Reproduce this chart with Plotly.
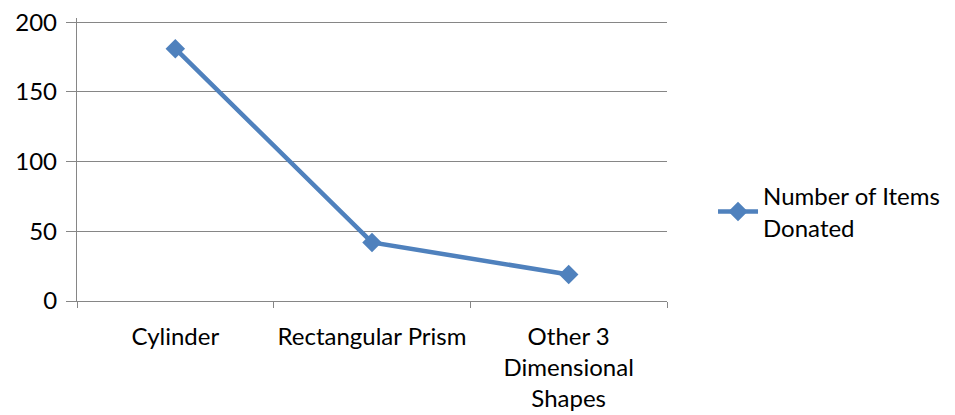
import plotly.graph_objects as go

categories = ["Cylinder", "Rectangular Prism", "Other 3<br>Dimensional<br>Shapes"]
values = [181, 42, 19]
series_name = "Number of Items<br>Donated"

fig = go.Figure()
fig.add_trace(go.Scatter(
    x=categories, y=values, name=series_name,
    mode="lines+markers",
    line=dict(color="#4F81BD", width=4.5),
    marker=dict(symbol="diamond", size=15, color="#4F81BD"),
    showlegend=True,
))

fig.update_layout(
    width=955, height=415,
    paper_bgcolor="white", plot_bgcolor="white",
    margin=dict(l=69, r=296, t=10, b=122, autoexpand=False),
    font=dict(family="Lato, Liberation Sans, sans-serif", size=24, color="black"),
    legend=dict(x=1.078, y=0.315, xanchor="left", yanchor="middle",
                font=dict(size=24), itemwidth=40),
    xaxis=dict(
        type="category", showgrid=False, showline=True, linecolor="#868686",
        linewidth=1.3, ticks="outside", tickson="boundaries", ticklen=6,
        tickcolor="#868686", range=[-0.5, 2.5], ticklabelstandoff=14,
        tickangle=0, automargin=False,
    ),
    yaxis=dict(
        range=[0, 203], tickvals=[0, 50, 100, 150, 200], showgrid=True,
        gridcolor="#868686", gridwidth=1.3, showline=True, linecolor="#868686",
        linewidth=1.3, ticks="outside", ticklen=10, tickcolor="#868686",
        zeroline=False, ticklabelstandoff=4, automargin=False,
        ticklabeloverflow="allow",
    ),
)

fig.write_html("out.html")
